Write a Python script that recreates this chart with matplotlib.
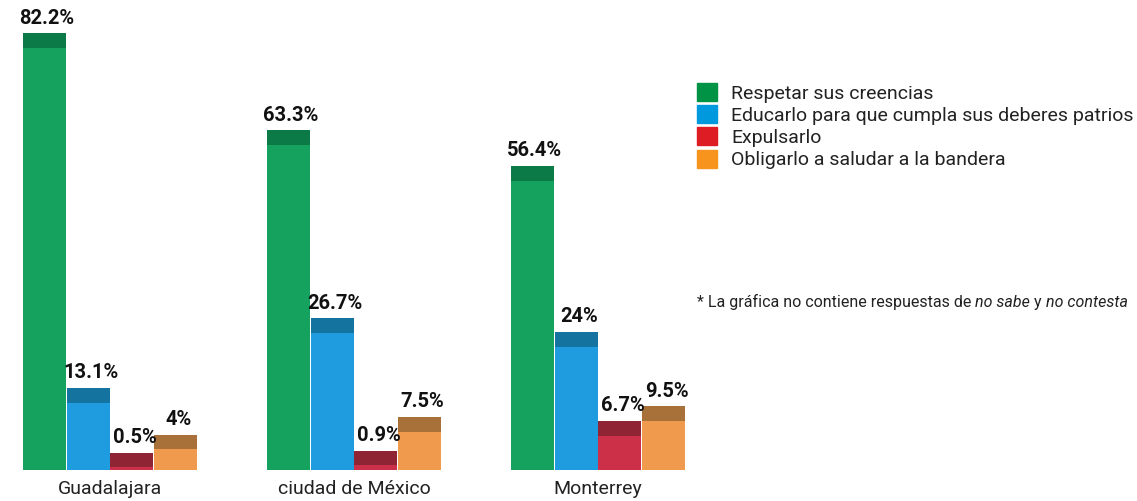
import numpy as np
import matplotlib.pyplot as plt
from matplotlib.patches import Patch

# datos
ciudades = ["Guadalajara", "ciudad de México", "Monterrey"]
respuestas = ["Respetar sus creencias",
              "Educarlo para que cumpla sus deberes patrios",
              "Expulsarlo",
              "Obligarlo a saludar a la bandera"]
respetar = [82.2, 63.3, 56.4]
educarlo = [13.1, 26.7, 24.0]
expulsarlo = [0.5, 0.9, 6.7]
obligarlo = [4.0, 7.5, 9.5]
etiquetas = [["82.2%", "63.3%", "56.4%"],
             ["13.1%", "26.7%", "24%"],
             ["0.5%", "0.9%", "6.7%"],
             ["4%", "7.5%", "9.5%"]]

series = [respetar, educarlo, expulsarlo, obligarlo]
cuerpo = ["#14a25e", "#1f9be0", "#cc3048", "#ef9a4c"]
tapa = ["#0c7a46", "#15739f", "#8e2434", "#a8713a"]
leyenda = ["#009245", "#0099dd", "#dd1c24", "#f7941d"]

plt.rcParams['font.family'] = ['Roboto', 'DejaVu Sans']

fig = plt.figure(figsize=(11.37, 5.01), dpi=100)
ax = fig.add_axes([0, 31 / 501, 1, 470 / 501])

x = np.arange(len(ciudades))
paso = 0.18
ancho = 0.176
prof = 2.9  # altura de la cara superior (efecto 3D)

for i, vals in enumerate(series):
    xs = x + (i - 1.5) * paso
    ax.bar(xs, vals, width=ancho, color=cuerpo[i], linewidth=0)
    ax.bar(xs, [prof] * len(vals), bottom=vals, width=ancho,
           color=tapa[i], linewidth=0)
    for xi, v, t in zip(xs, vals, etiquetas[i]):
        ax.annotate(t, (xi, v + prof), xytext=(2, 4), textcoords="offset points",
                    ha="center", va="bottom", fontsize=14.5, fontweight="bold",
                    color="#111111")

ax.set_xlim(-110 / 244, (1137 - 110) / 244)
ax.set_ylim(0, 470 / 5.13)
ax.set_xticks(x, ciudades)
ax.tick_params(axis="x", length=0, pad=7, labelsize=14, labelcolor="#222222")
ax.set_yticks([])
for s in ax.spines.values():
    s.set_visible(False)
ax.patch.set_alpha(0)

handles = [Patch(color=c) for c in leyenda]
fig.legend(handles, respuestas, loc="upper left",
           bbox_to_anchor=(697 / 1137, 1 - 83 / 501), frameon=False,
           fontsize=14, handlelength=1.03, handleheight=1.05,
           handletextpad=0.72, labelspacing=0.13, borderaxespad=0,
           borderpad=0, labelcolor="#222222")

# nota al pie
t1 = fig.text(697 / 1137, 1 - 302 / 501, "* La gráfica no contiene respuestas de ",
              fontsize=11.5, va="center", color="#222222")
t2 = ax.annotate("no sabe", xy=(1, 0), xycoords=t1, va="bottom",
                 fontsize=11.5, style="italic", color="#222222")
t3 = ax.annotate(" y ", xy=(1, 0), xycoords=t2, va="bottom",
                 fontsize=11.5, color="#222222")
t4 = ax.annotate("no contesta", xy=(1, 0), xycoords=t3, va="bottom",
                 fontsize=11.5, style="italic", color="#222222")

fig.savefig("out.png", dpi=100)
